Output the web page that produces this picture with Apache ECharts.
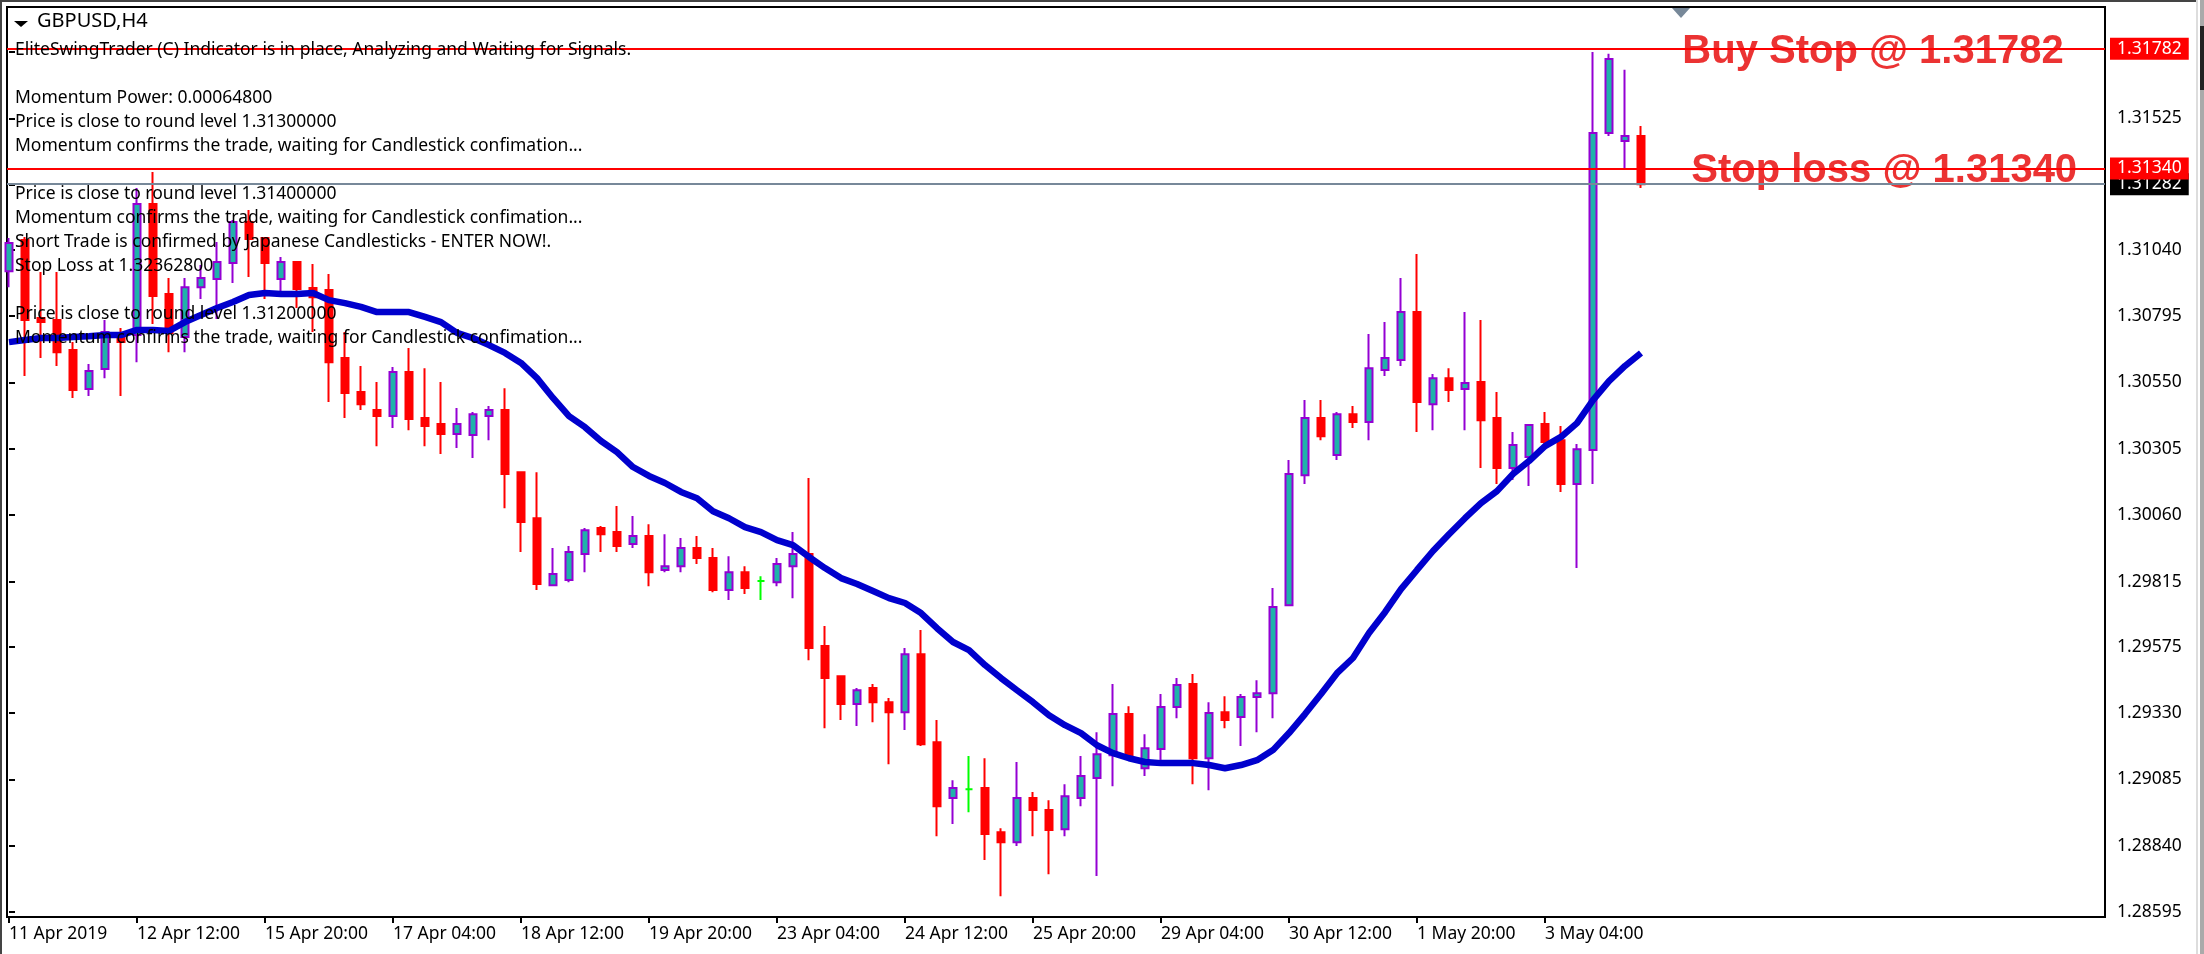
<!DOCTYPE html>
<html>
<head>
<meta charset="utf-8">
<title>GBPUSD,H4</title>
<style>
  html, body { margin: 0; padding: 0; background: #fff; }
  #chart { width: 2204px; height: 954px; }
</style>
<script src="https://cdn.jsdelivr.net/npm/echarts@6/dist/echarts.min.js"></script>
</head>
<body>
<div id="chart"></div>
<script>
var symbolName = 'GBPUSD,H4';

var opens = [
  1.30961,1.31076,1.30788,1.30781,1.30670,1.30526,1.30600,1.30725,1.30725,1.31209,
  1.30877,1.30718,1.30902,1.30932,1.30991,1.31142,1.31083,1.30932,1.30995,1.30899,
  1.30891,1.30640,1.30515,1.30448,1.30426,1.30589,1.30419,1.30397,1.30360,1.30356,
  1.30426,1.30448,1.30219,1.30049,1.29802,1.29821,1.29917,1.30013,1.29998,1.29954,
  1.29983,1.29858,1.29872,1.29939,1.29902,1.29784,1.29850,1.29817,1.29813,1.29872,
  1.29917,1.29577,1.29466,1.29363,1.29422,1.29370,1.29333,1.29547,1.29222,1.29016,
  1.29049,1.29053,1.28890,1.28853,1.29016,1.28972,1.28901,1.29016,1.29090,1.29174,
  1.29326,1.29126,1.29197,1.29352,1.29437,1.29163,1.29333,1.29315,1.29389,1.29403,
  1.29728,1.30208,1.30419,1.30282,1.30433,1.30404,1.30596,1.30633,1.30810,1.30470,
  1.30566,1.30526,1.30552,1.30419,1.30234,1.30275,1.30397,1.30337,1.30175,1.30301,
  1.31471,1.31441,1.31460
];
var highs = [
  1.31083,1.31087,1.30958,1.30958,1.30699,1.30618,1.30781,1.30751,1.31268,1.31327,
  1.30936,1.30936,1.30984,1.31069,1.31150,1.31187,1.31083,1.31013,1.30995,1.30987,
  1.30950,1.30736,1.30611,1.30552,1.30607,1.30677,1.30603,1.30552,1.30456,1.30441,
  1.30463,1.30529,1.30219,1.30219,1.29939,1.29946,1.30013,1.30020,1.30094,1.30057,
  1.30027,1.29990,1.29976,1.29983,1.29939,1.29909,1.29872,1.29835,1.29902,1.29998,
  1.30197,1.29651,1.29466,1.29422,1.29437,1.29385,1.29570,1.29636,1.29304,1.29082,
  1.29171,1.29163,1.28905,1.29149,1.29038,1.29008,1.29067,1.29171,1.29259,1.29437,
  1.29355,1.29252,1.29400,1.29459,1.29474,1.29370,1.29392,1.29400,1.29451,1.29791,
  1.30264,1.30485,1.30485,1.30441,1.30463,1.30729,1.30773,1.30936,1.31024,1.30581,
  1.30603,1.30810,1.30781,1.30515,1.30367,1.30397,1.30441,1.30389,1.30323,1.31770,
  1.31763,1.31704,1.31497
];
var lows = [
  1.30902,1.30574,1.30640,1.30611,1.30493,1.30500,1.30566,1.30500,1.30625,1.30766,
  1.30662,1.30662,1.30858,1.30784,1.30917,1.30939,1.30858,1.30880,1.30825,1.30736,
  1.30478,1.30419,1.30448,1.30315,1.30382,1.30374,1.30315,1.30286,1.30308,1.30271,
  1.30337,1.30086,1.29924,1.29784,1.29802,1.29813,1.29850,1.29924,1.29924,1.29939,
  1.29798,1.29850,1.29850,1.29880,1.29776,1.29747,1.29769,1.29747,1.29798,1.29754,
  1.29525,1.29274,1.29304,1.29282,1.29296,1.29141,1.29267,1.29208,1.28875,1.28920,
  1.28964,1.28787,1.28654,1.28839,1.28875,1.28735,1.28875,1.28986,1.28728,1.29060,
  1.29167,1.29097,1.29156,1.29311,1.29067,1.29045,1.29274,1.29208,1.29259,1.29311,
  1.29728,1.30175,1.30337,1.30264,1.30382,1.30337,1.30574,1.30611,1.30367,1.30374,
  1.30478,1.30374,1.30234,1.30175,1.30190,1.30168,1.30315,1.30146,1.29865,1.30175,
  1.31460,1.31342,1.31268
];
var closes = [
  1.31065,1.30781,1.30773,1.30662,1.30522,1.30592,1.30736,1.30699,1.31209,1.30869,
  1.30733,1.30902,1.30936,1.30995,1.31142,1.31080,1.30991,1.30995,1.30895,1.30865,
  1.30625,1.30511,1.30470,1.30426,1.30589,1.30415,1.30389,1.30360,1.30397,1.30433,
  1.30448,1.30212,1.30035,1.29806,1.29843,1.29924,1.30005,1.29990,1.29946,1.29983,
  1.29850,1.29872,1.29939,1.29902,1.29784,1.29850,1.29791,1.29817,1.29880,1.29917,
  1.29570,1.29459,1.29363,1.29414,1.29370,1.29333,1.29547,1.29215,1.28986,1.29053,
  1.29049,1.28883,1.28853,1.29016,1.28972,1.28898,1.29023,1.29097,1.29178,1.29326,
  1.29167,1.29200,1.29352,1.29433,1.29163,1.29330,1.29304,1.29389,1.29403,1.29721,
  1.30212,1.30419,1.30352,1.30433,1.30404,1.30603,1.30640,1.30810,1.30478,1.30566,
  1.30522,1.30548,1.30411,1.30234,1.30319,1.30393,1.30330,1.30175,1.30304,1.31471,
  1.31744,1.31460,1.31282
];
var movingAvg = [
  1.30699,1.30707,1.30714,1.30714,1.30718,1.30721,1.30725,1.30725,1.30744,1.30744,
  1.30740,1.30773,1.30799,1.30825,1.30847,1.30873,1.30880,1.30877,1.30877,1.30880,
  1.30854,1.30843,1.30829,1.30810,1.30810,1.30810,1.30792,1.30773,1.30733,1.30714,
  1.30688,1.30659,1.30622,1.30566,1.30493,1.30426,1.30385,1.30334,1.30293,1.30238,
  1.30205,1.30179,1.30146,1.30123,1.30075,1.30049,1.30016,1.29998,1.29968,1.29950,
  1.29906,1.29865,1.29828,1.29806,1.29780,1.29754,1.29736,1.29699,1.29643,1.29592,
  1.29562,1.29507,1.29459,1.29414,1.29370,1.29322,1.29285,1.29256,1.29211,1.29182,
  1.29163,1.29149,1.29145,1.29145,1.29145,1.29138,1.29126,1.29138,1.29156,1.29193,
  1.29256,1.29326,1.29400,1.29477,1.29533,1.29625,1.29702,1.29787,1.29858,1.29928,
  1.29990,1.30049,1.30105,1.30149,1.30212,1.30260,1.30315,1.30349,1.30400,1.30485,
  1.30555,1.30611,1.30659
];

var priceTicks = [1.31770,1.31525,1.31280,1.31040,1.30795,1.30550,1.30305,1.30060,1.29815,1.29575,1.29330,1.29085,1.28840,1.28595];
var timeTickBars = [0,8,16,24,32,40,48,56,64,72,80,88,96];
var timeTickLabels = ['11 Apr 2019','12 Apr 12:00','15 Apr 20:00','17 Apr 04:00','18 Apr 12:00','19 Apr 20:00','23 Apr 04:00','24 Apr 12:00','25 Apr 20:00','29 Apr 04:00','30 Apr 12:00','1 May 20:00','3 May 04:00'];

var buyStop = 1.31782;
var stopLoss = 1.31340;
var lastPrice = 1.31282;
var noteTexts = ['Buy Stop @ 1.31782', 'Stop loss @ 1.31340'];
var noteBars = [116.5, 117.2];
var notePrices = [buyStop, stopLoss];

var commentLines = [
  'EliteSwingTrader (C) Indicator is in place, Analyzing and Waiting for Signals.',
  '',
  'Momentum Power: 0.00064800',
  'Price is close to round level 1.31300000',
  'Momentum confirms the trade, waiting for Candlestick confimation...',
  '',
  'Price is close to round level 1.31400000',
  'Momentum confirms the trade, waiting for Candlestick confimation...',
  'Short Trade is confirmed by Japanese Candlesticks - ENTER NOW!.',
  'Stop Loss at 1.32362800',
  '',
  'Price is close to round level 1.31200000',
  'Momentum confirms the trade, waiting for Candlestick confimation...'
];

var uiFont = '"Noto Sans", sans-serif';

var candles = opens.map(function (o, i) { return [i, o, closes[i], lows[i], highs[i]]; });
var maPoints = movingAvg.map(function (v, i) { return [i, v]; });
var notePoints = noteTexts.map(function (t, i) { return { value: [noteBars[i], notePrices[i]], name: t }; });

function priceLine(value, lineColor, boxColor) {
  return {
    yAxis: value,
    lineStyle: { color: lineColor, width: 2, type: 'solid' },
    label: {
      show: true, position: 'end', distance: 5,
      formatter: value.toFixed(5),
      color: '#fff', backgroundColor: boxColor,
      fontFamily: uiFont, fontSize: 17.5, padding: [0, 7], lineHeight: 22
    }
  };
}

var chart = echarts.init(document.getElementById('chart'), null, { renderer: 'canvas' });
chart.setOption({
  animation: false,
  backgroundColor: '#fff',
  title: [
    { text: symbolName, left: 37, top: 11, padding: 0,
      textStyle: { fontFamily: uiFont, fontSize: 20, fontWeight: 'normal', color: '#000' } },
    { text: commentLines.join('\n'), left: 15, top: 38, padding: 0,
      textStyle: { fontFamily: uiFont, fontSize: 17.5, fontWeight: 'normal', color: '#000', lineHeight: 24 } }
  ],
  grid: { show: true, left: 7, top: 7, right: 99, bottom: 37, borderColor: '#000', borderWidth: 2, backgroundColor: '#fff' },
  xAxis: {
    type: 'value', min: -0.125, max: 131, splitLine: { show: false },
    axisLine: { show: false },
    axisTick: { show: true, length: 6, lineStyle: { color: '#000', width: 2 }, customValues: timeTickBars },
    axisLabel: {
      customValues: timeTickBars, align: 'left', margin: 8, color: '#000', fontFamily: uiFont, fontSize: 17.5,
      hideOverlap: false, showMinLabel: true, showMaxLabel: true,
      formatter: function (v) { return timeTickLabels[timeTickBars.indexOf(v)]; }
    }
  },
  yAxis: {
    type: 'value', position: 'right', min: 1.28577, max: 1.31936, splitLine: { show: false },
    axisLine: { show: false },
    axisTick: { show: true, length: 6, lineStyle: { color: '#000', width: 2 }, customValues: priceTicks },
    axisLabel: {
      customValues: priceTicks, margin: 12, color: '#000', fontFamily: uiFont, fontSize: 17.5,
      hideOverlap: false, showMinLabel: true, showMaxLabel: true,
      formatter: function (v) { return v.toFixed(5); }
    }
  },
  series: [
    {
      type: 'candlestick', data: candles, encode: { x: 0, y: [1, 2, 3, 4] }, barWidth: 8, z: 2,
      itemStyle: {
        color: '#20B2AA', color0: '#ff0000',
        borderColor: '#9400D3', borderColor0: '#ff0000', borderColorDoji: '#00ff00', borderWidth: 2
      }
    },
    {
      type: 'line', data: maPoints, showSymbol: false, z: 3,
      lineStyle: { color: '#0000CD', width: 6.5 },
      markLine: {
        silent: true, symbol: 'none', animation: false, precision: 5,
        data: [
          priceLine(lastPrice, '#778899', '#000'),
          priceLine(buyStop, '#ff0000', '#ff0000'),
          priceLine(stopLoss, '#ff0000', '#ff0000')
        ]
      }
    },
    {
      type: 'scatter', data: notePoints, symbolSize: 0, z: 4,
      label: {
        show: true, position: 'inside', formatter: '{b}', align: 'center', verticalAlign: 'middle', offset: [0, 3],
        color: '#e60000', textBorderColor: '#fff', textBorderWidth: 3,
        fontFamily: '"Liberation Sans", Arial, sans-serif', fontWeight: 'bold', fontSize: 40
      }
    }
  ],
  graphic: [
    { type: 'rect', shape: { x: 0, y: 0, width: 2196, height: 2 }, style: { fill: '#444' }, silent: true },
    { type: 'rect', shape: { x: 0, y: 0, width: 2, height: 954 }, style: { fill: '#444' }, silent: true },
    { type: 'rect', shape: { x: 2196, y: 0, width: 2, height: 954 }, style: { fill: '#ddd' }, silent: true },
    { type: 'rect', shape: { x: 2200, y: 0, width: 4, height: 954 }, style: { fill: '#aaa' }, silent: true },
    { type: 'rect', shape: { x: 2200, y: 26, width: 4, height: 64 }, style: { fill: '#222' }, silent: true },
    { type: 'polygon', shape: { points: [[14, 21], [28, 21], [21, 27]] }, style: { fill: '#000' }, silent: true },
    { type: 'polygon', shape: { points: [[1672, 8], [1690, 8], [1681, 18]] }, style: { fill: '#778899' }, silent: true }
  ]
});
</script>
</body>
</html>
